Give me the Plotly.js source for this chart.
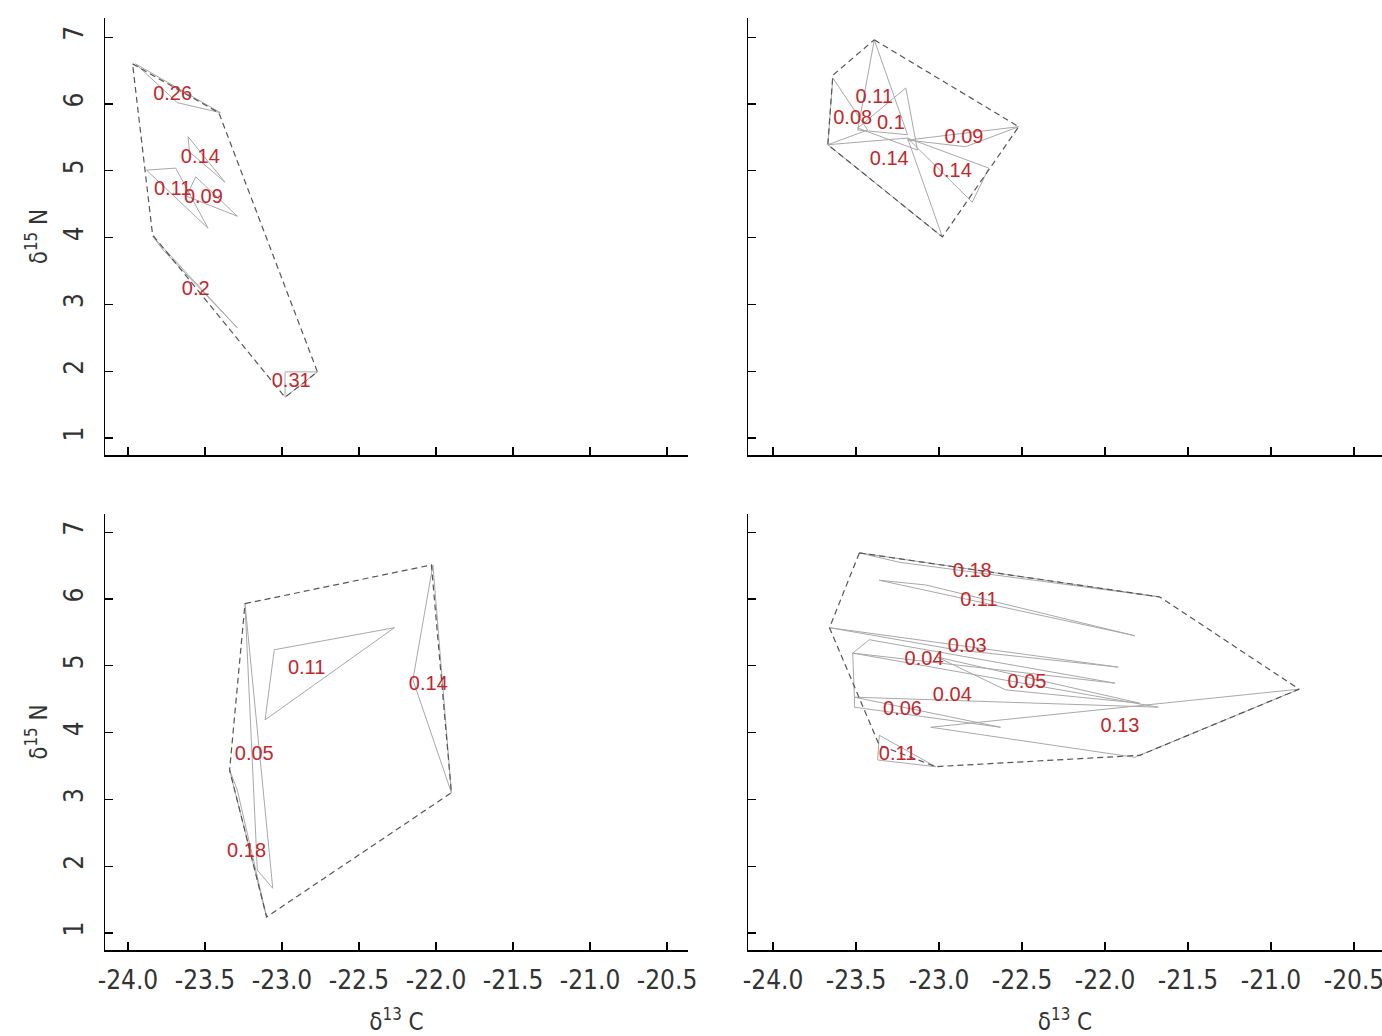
<!DOCTYPE html>
<html>
<head>
<meta charset="utf-8">
<script src="https://cdn.plot.ly/plotly-3.0.1.min.js"></script>
<style>html,body{margin:0;padding:0;background:#fff;}#chart{width:1382px;height:1036px;}</style>
</head>
<body>
<div id="chart"></div>
<script>
// ---------- Panel A (top-left) ----------
const panelA_hullX = [-23.97, -23.41, -22.77, -22.98, -23.84];
const panelA_hullY = [6.60, 5.87, 1.99, 1.61, 4.04];
const panelA_triX = [[-23.95, -23.40, -23.68], [-23.61, -23.37, -23.60], [-23.88, -23.69, -23.48], [-23.56, -23.29, -23.62], [-23.84, -23.29, -23.77], [-22.98, -22.77, -22.98]];
const panelA_triY = [[6.60, 5.87, 6.02], [5.51, 4.83, 5.28], [5.01, 5.04, 4.14], [4.91, 4.32, 4.62], [4.02, 2.65, 3.81], [1.99, 1.99, 1.61]];
const panelA_labels = ['0.26', '0.14', '0.11', '0.09', '0.2', '0.31'];
const panelA_labelX = [-23.71, -23.53, -23.71, -23.51, -23.56, -22.94];
const panelA_labelY = [6.13, 5.19, 4.71, 4.59, 3.22, 1.84];

// ---------- Panel B (top-right) ----------
const panelB_hullX = [-23.39, -22.52, -22.98, -23.67, -23.64];
const panelB_hullY = [6.96, 5.66, 4.01, 5.39, 6.43];
const panelB_triX = [[-23.39, -23.49, -23.19], [-23.64, -23.43, -23.67], [-23.20, -23.13, -23.49], [-23.19, -22.52, -22.84], [-23.67, -22.98, -23.19], [-23.19, -22.70, -22.80]];
const panelB_triY = [[6.96, 5.61, 5.54], [6.39, 5.61, 5.39], [6.24, 5.31, 5.64], [5.46, 5.66, 5.36], [5.39, 4.01, 5.49], [5.49, 5.04, 4.53]];
const panelB_labels = ['0.11', '0.08', '0.1', '0.09', '0.14', '0.14'];
const panelB_labelX = [-23.39, -23.52, -23.29, -22.85, -23.30, -22.92];
const panelB_labelY = [6.09, 5.78, 5.70, 5.49, 5.16, 4.98];

// ---------- Panel C (bottom-left) ----------
const panelC_hullX = [-23.24, -22.03, -21.90, -23.10, -23.34];
const panelC_hullY = [5.93, 6.51, 3.10, 1.24, 3.44];
const panelC_triX = [[-23.05, -22.27, -23.11], [-22.02, -22.15, -21.90], [-23.24, -23.06, -23.16], [-23.34, -23.10, -23.29]];
const panelC_triY = [[5.24, 5.57, 4.19], [6.51, 4.79, 3.10], [5.93, 1.67, 1.94], [3.44, 1.24, 3.14]];
const panelC_labels = ['0.11', '0.14', '0.05', '0.18'];
const panelC_labelX = [-22.84, -22.05, -23.18, -23.23];
const panelC_labelY = [4.95, 4.71, 3.66, 2.21];

// ---------- Panel D (bottom-right) ----------
const panelD_hullX = [-23.48, -21.67, -20.83, -21.79, -23.02, -23.36, -23.66];
const panelD_hullY = [6.69, 6.03, 4.65, 3.66, 3.49, 3.81, 5.57];
const panelD_triX = [[-23.48, -21.67, -23.24], [-23.36, -21.82, -23.08], [-23.66, -21.92, -22.90], [-23.52, -21.94, -23.42], [-23.01, -22.60, -21.79], [-23.52, -23.51, -21.68], [-23.51, -23.51, -22.63], [-23.05, -20.83, -21.82], [-23.36, -23.02, -23.37]];
const panelD_triY = [[6.69, 6.03, 6.55], [6.28, 5.45, 6.21], [5.57, 4.98, 5.24], [5.19, 4.74, 5.39], [5.13, 4.64, 4.44], [5.19, 4.53, 4.38], [4.53, 4.38, 4.08], [4.08, 4.65, 3.63], [3.96, 3.49, 3.59]];
const panelD_labels = ['0.18', '0.11', '0.03', '0.04', '0.05', '0.04', '0.06', '0.13', '0.11'];
const panelD_labelX = [-22.80, -22.76, -22.83, -23.09, -22.47, -22.92, -23.22, -21.91, -23.25];
const panelD_labelY = [6.40, 5.97, 5.28, 5.09, 4.74, 4.55, 4.34, 4.08, 3.66];

// ---------- Axis ticks ----------
const xTickVals = [-24.0, -23.5, -23.0, -22.5, -22.0, -21.5, -21.0, -20.5];
const xTickText = ['-24.0', '-23.5', '-23.0', '-22.5', '-22.0', '-21.5', '-21.0', '-20.5'];
const yTickVals = [1, 2, 3, 4, 5, 6, 7];
const yTickText = ['1', '2', '3', '4', '5', '6', '7'];

const panels = [
  {hx: panelA_hullX, hy: panelA_hullY, tx: panelA_triX, ty: panelA_triY, lab: panelA_labels, lx: panelA_labelX, ly: panelA_labelY, xa: 'x', ya: 'y'},
  {hx: panelB_hullX, hy: panelB_hullY, tx: panelB_triX, ty: panelB_triY, lab: panelB_labels, lx: panelB_labelX, ly: panelB_labelY, xa: 'x2', ya: 'y2'},
  {hx: panelC_hullX, hy: panelC_hullY, tx: panelC_triX, ty: panelC_triY, lab: panelC_labels, lx: panelC_labelX, ly: panelC_labelY, xa: 'x3', ya: 'y3'},
  {hx: panelD_hullX, hy: panelD_hullY, tx: panelD_triX, ty: panelD_triY, lab: panelD_labels, lx: panelD_labelX, ly: panelD_labelY, xa: 'x4', ya: 'y4'}
];

const traces = [];
panels.forEach(p => {
  p.tx.forEach((tx, i) => {
    traces.push({
      type: 'scatter', mode: 'lines', xaxis: p.xa, yaxis: p.ya,
      x: tx.concat([tx[0]]), y: p.ty[i].concat([p.ty[i][0]]),
      line: {color: '#a8a8a8', width: 1}, hoverinfo: 'skip'
    });
  });
  traces.push({
    type: 'scatter', mode: 'lines', xaxis: p.xa, yaxis: p.ya,
    x: p.hx.concat([p.hx[0]]), y: p.hy.concat([p.hy[0]]),
    line: {color: '#555555', width: 1.2, dash: '6px,4px'}, hoverinfo: 'skip'
  });
  traces.push({
    type: 'scatter', mode: 'text', xaxis: p.xa, yaxis: p.ya,
    x: p.lx, y: p.ly, text: p.lab, textposition: 'middle center',
    textfont: {family: 'Liberation Sans, Arial, sans-serif', size: 20, color: '#c0282d'},
    hoverinfo: 'skip'
  });
});

const tickFont = {family: 'Liberation Sans Narrow, DejaVu Sans Condensed, Liberation Sans, Arial, sans-serif', size: 26, color: '#333333'};
const titleFont = {family: 'Liberation Sans Narrow, DejaVu Sans Condensed, Liberation Sans, Arial, sans-serif', size: 24, color: '#333333'};

function xAxis(domain, range, anchor, labels) {
  const ax = {
    domain: domain, range: range, anchor: anchor,
    showline: true, linecolor: '#000', linewidth: 1.5, mirror: false,
    showgrid: false, zeroline: false,
    ticks: 'inside', ticklen: 8, tickwidth: 1.3, tickcolor: '#000',
    tickmode: 'array', tickvals: xTickVals, ticktext: xTickText,
    showticklabels: labels, tickfont: tickFont,
    ticklabelstandoff: 6, ticklabeloverflow: 'allow'
  };
  if (labels) ax.title = {text: 'δ<sup>13</sup> C', font: titleFont, standoff: 22};
  return ax;
}
function yAxis(domain, range, anchor, title) {
  const ax = {
    domain: domain, range: range, anchor: anchor,
    showline: true, linecolor: '#000', linewidth: 1.5, mirror: false,
    showgrid: false, zeroline: false,
    ticks: 'inside', ticklen: 8, tickwidth: 1.3, tickcolor: '#000',
    tickmode: 'array', tickvals: yTickVals, ticktext: yTickText,
    tickangle: -90, tickfont: tickFont, ticklabelstandoff: 10,
    showticklabels: title
  };
  if (title) ax.title = {text: 'δ<sup>15</sup> N', font: titleFont, standoff: 4};
  return ax;
}

const xL = [105/1382, 688/1382], xR = [748/1382, 1];
const yT = [(1036-455)/1036, (1036-18)/1036], yB = [(1036-950)/1036, (1036-514)/1036];
const xRangeL = [-24.149, -20.364], xRangeR = [-24.151, -20.331];
const yRangeT = [0.7455, 7.287], yRangeB = [0.7455, 7.272];

const layout = {
  width: 1382, height: 1036,
  margin: {l: 0, r: 0, t: 0, b: 0},
  paper_bgcolor: '#ffffff', plot_bgcolor: '#ffffff',
  showlegend: false,
  xaxis: xAxis(xL, xRangeL, 'y', false),
  yaxis: yAxis(yT, yRangeT, 'x', true),
  xaxis2: xAxis(xR, xRangeR, 'y2', false),
  yaxis2: yAxis(yT, yRangeT, 'x2', false),
  xaxis3: xAxis(xL, xRangeL, 'y3', true),
  yaxis3: yAxis(yB, yRangeB, 'x3', true),
  xaxis4: xAxis(xR, xRangeR, 'y4', true),
  yaxis4: yAxis(yB, yRangeB, 'x4', false)
};

Plotly.newPlot('chart', traces, layout, {displayModeBar: false, staticPlot: true});
</script>
</body>
</html>
